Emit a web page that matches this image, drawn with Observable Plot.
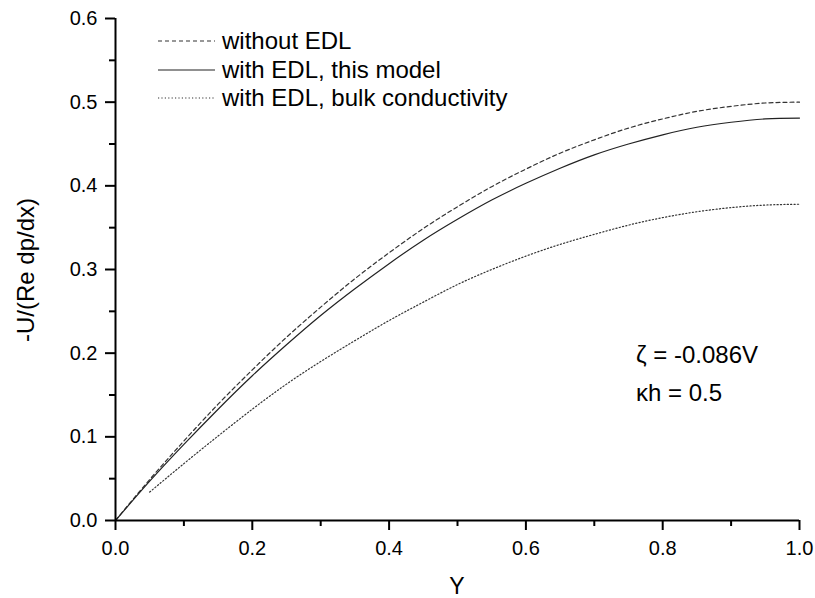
<!DOCTYPE html>
<html>
<head>
<meta charset="utf-8">
<script src="https://cdn.jsdelivr.net/npm/d3@7"></script>
<script src="https://cdn.jsdelivr.net/npm/@observablehq/plot@0.6"></script>
<style>
  html, body { margin: 0; padding: 0; background: #fff; }
  #chart { position: relative; width: 815px; height: 598px; }
  svg { font-family: "Liberation Sans", Arial, sans-serif; }
</style>
</head>
<body>
<div id="chart"></div>
<script>
// ---- data ----
const yPos = [0, 0.05, 0.1, 0.15, 0.2, 0.25, 0.3, 0.35, 0.4, 0.45, 0.5, 0.55, 0.6, 0.65, 0.7, 0.75, 0.8, 0.85, 0.9, 0.95, 1.0];
const withoutEDL = [0, 0.049, 0.095, 0.139, 0.180, 0.219, 0.255, 0.289, 0.320, 0.349, 0.375, 0.399, 0.420, 0.439, 0.455, 0.469, 0.480, 0.489, 0.495, 0.499, 0.500];
const withEDLModel = [0, 0.047, 0.091, 0.133, 0.173, 0.210, 0.245, 0.277, 0.307, 0.335, 0.360, 0.383, 0.403, 0.421, 0.437, 0.450, 0.461, 0.470, 0.476, 0.480, 0.481];
const bulkPos = [0.05, 0.1, 0.15, 0.2, 0.25, 0.3, 0.35, 0.4, 0.45, 0.5, 0.55, 0.6, 0.65, 0.7, 0.75, 0.8, 0.85, 0.9, 0.95, 1.0];
const withEDLBulk = [0.034, 0.068, 0.101, 0.133, 0.163, 0.190, 0.215, 0.239, 0.261, 0.282, 0.300, 0.316, 0.330, 0.342, 0.353, 0.362, 0.369, 0.374, 0.377, 0.378];

const seriesNames = ["without EDL", "with EDL, this model", "with EDL, bulk conductivity"];
const xMajorTicks = [0, 0.2, 0.4, 0.6, 0.8, 1.0];
const xMinorTicks = [0.1, 0.3, 0.5, 0.7, 0.9];
const yMajorTicks = [0, 0.1, 0.2, 0.3, 0.4, 0.5, 0.6];
const yMinorTicks = [0.05, 0.15, 0.25, 0.35, 0.45, 0.55];
const xTitle = "Y";
const yTitle = "-U/(Re dp/dx)";
const annotation = ["\u03B6 = -0.086V", "\u03BAh = 0.5"];

// ---- build tables ----
const s0 = yPos.map((x, i) => ({x, v: withoutEDL[i]}));
const s1 = yPos.map((x, i) => ({x, v: withEDLModel[i]}));
const s2 = bulkPos.map((x, i) => ({x, v: withEDLBulk[i]}));

const styles = [
  {stroke: "#333", strokeWidth: 1.2, dash: "4,3"},
  {stroke: "#222", strokeWidth: 1.2, dash: null},
  {stroke: "#333", strokeWidth: 1.2, dash: "1.2,2.2"}
];

const W = 815, H = 598;
const fmt = d3.format(".1f");

const plot = Plot.plot({
  width: W,
  height: H,
  marginLeft: 115,
  marginRight: 16,
  marginTop: 18,
  marginBottom: 78,
  style: {fontFamily: "'Liberation Sans', Arial, sans-serif", background: "#fff", color: "#000"},
  x: {domain: [0, 1]},
  y: {domain: [0, 0.6]},
  marks: [
    Plot.line(s0, {x: "x", y: "v", stroke: styles[0].stroke, strokeWidth: styles[0].strokeWidth, strokeDasharray: styles[0].dash, curve: "natural"}),
    Plot.line(s1, {x: "x", y: "v", stroke: styles[1].stroke, strokeWidth: styles[1].strokeWidth, curve: "natural"}),
    Plot.line(s2, {x: "x", y: "v", stroke: styles[2].stroke, strokeWidth: styles[2].strokeWidth, strokeDasharray: styles[2].dash, curve: "natural"}),
    Plot.axisX(xMajorTicks, {tickSize: 10, tickPadding: 10, strokeWidth: 2, fontSize: 20, tickFormat: fmt, label: null}),
    Plot.axisX(xMinorTicks, {tickSize: 6, strokeWidth: 2, text: null, label: null}),
    Plot.axisY(yMajorTicks, {tickSize: 10, tickPadding: 8, strokeWidth: 2, fontSize: 20, tickFormat: fmt, label: null}),
    Plot.axisY(yMinorTicks, {tickSize: 6, strokeWidth: 2, text: null, label: null}),
    Plot.ruleY([0], {strokeWidth: 2}),
    Plot.ruleX([0], {strokeWidth: 2})
  ]
});

document.getElementById("chart").appendChild(plot);

const svg = d3.select(plot);

// axis titles
svg.append("text")
  .attr("x", 457).attr("y", 594)
  .attr("text-anchor", "middle")
  .attr("font-size", 23)
  .attr("fill", "#000")
  .text(xTitle);

svg.append("text")
  .attr("transform", "translate(34,270) rotate(-90)")
  .attr("text-anchor", "middle")
  .attr("font-size", 24)
  .attr("fill", "#000")
  .text(yTitle);

// legend
const legendRows = [41, 70, 98];
const lg = svg.append("g");
seriesNames.forEach((name, i) => {
  const st = styles[i];
  lg.append("line")
    .attr("x1", 158).attr("x2", 215)
    .attr("y1", legendRows[i]).attr("y2", legendRows[i])
    .attr("stroke", st.stroke)
    .attr("stroke-width", st.strokeWidth)
    .attr("stroke-dasharray", st.dash);
  lg.append("text")
    .attr("x", 222).attr("y", legendRows[i] + 8)
    .attr("text-anchor", "start")
    .attr("font-size", 24)
    .attr("fill", "#000")
    .text(name);
});

// annotation
annotation.forEach((t, i) => {
  svg.append("text")
    .attr("x", 636).attr("y", 363 + i * 38)
    .attr("text-anchor", "start")
    .attr("font-size", 24)
    .attr("fill", "#000")
    .text(t);
});
</script>
</body>
</html>
